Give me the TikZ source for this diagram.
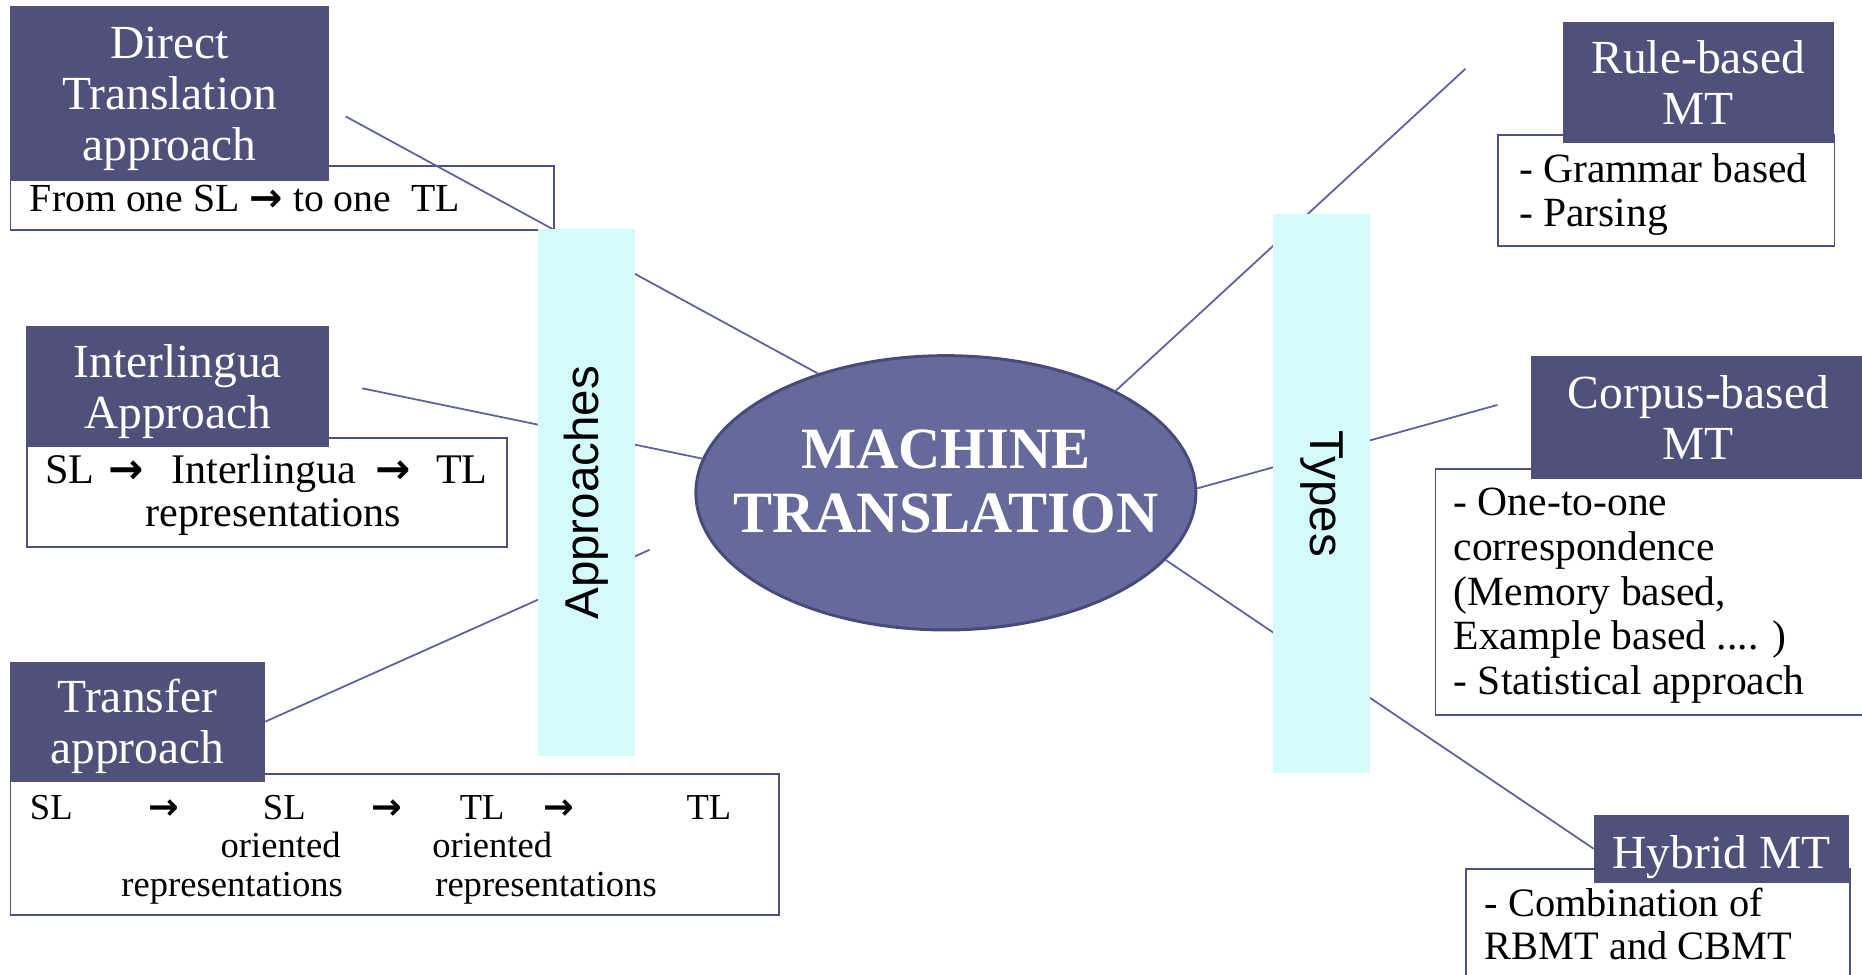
\documentclass[tikz,border=0pt]{standalone}
\usepackage{fontspec}
\setmainfont{Liberation Serif}
\setsansfont{Liberation Sans}
\newfontfamily\arrowfont{DejaVu Sans}[BoldFont={DejaVu Sans Bold}]
\newcommand{\rarr}{{\arrowfont\bfseries →}}
\usetikzlibrary{shapes.geometric}
\definecolor{darkbox}{HTML}{50517A}
\definecolor{ellfill}{HTML}{656A9B}
\definecolor{elldraw}{HTML}{474B7A}
\definecolor{linkc}{HTML}{5F629E}
\definecolor{boxline}{HTML}{4D5080}
\definecolor{cyanbar}{HTML}{D4FBFC}
\begin{document}
\begin{tikzpicture}[x=1pt,y=-1pt,
  darkstyle/.style={fill=darkbox, text=white, inner sep=0pt, align=center, anchor=north west, text depth=0pt, font=\fontsize{40}{43}\selectfont},
  whitestyle/.style={draw=boxline, line width=1.6pt, fill=white, inner sep=0pt, anchor=north west},
  bodytext/.style={inner sep=0pt, anchor=base west, align=left, font=\fontsize{35}{37}\selectfont},
  bodyc/.style={inner sep=0pt, anchor=base, font=\fontsize{35}{37}\selectfont},
  intc/.style={inner sep=0pt, anchor=base, font=\fontsize{35.5}{37}\selectfont},
  trc/.style={inner sep=0pt, anchor=base, font=\fontsize{30.8}{33}\selectfont},
  link/.style={draw=linkc, line width=1.5pt},
  barstyle/.style={fill=cyanbar, inner sep=0pt, font=\sffamily\fontsize{40}{44}\selectfont},
  ellstyle/.style={ellipse, fill=ellfill, draw=elldraw, line width=2.5pt, inner sep=0pt, minimum width=421pt, minimum height=231pt},
  mttext/.style={text=white, align=center, inner sep=0pt, font=\bfseries\fontsize{49.3}{54}\selectfont}
]
\useasboundingbox (0,0) rectangle (1568,821);
\clip (0,0) rectangle (1568,821);

% white boxes
\node[whitestyle, minimum width=458pt, minimum height=54pt] (dirw) at (8,139) {};
\node[whitestyle, minimum width=404pt, minimum height=92pt] (intw) at (22,368) {};
\node[whitestyle, minimum width=647pt, minimum height=119pt] (trw) at (8,651) {};
\node[whitestyle, minimum width=283pt, minimum height=93pt] (rulw) at (1261,113) {};
\node[whitestyle, minimum width=380pt, minimum height=207pt] (corw) at (1208,394) {};
\node[whitestyle, minimum width=323pt, minimum height=120pt] (hybw) at (1234,731) {};

% dark title boxes
\node[darkstyle, minimum width=269pt, minimum height=147pt] (dir) at (8,5) {Direct\\Translation\\approach};
\node[darkstyle, minimum width=255pt, minimum height=102pt] (int) at (22,274) {Interlingua\\Approach};
\node[darkstyle, minimum width=215pt, minimum height=101pt] (tr) at (8,557) {Transfer\\approach};
\node[darkstyle, minimum width=228pt, minimum height=102pt] (rul) at (1316,18) {Rule-based\\MT};
\node[darkstyle, minimum width=282pt, minimum height=103pt] (cor) at (1289,300) {Corpus-based\\MT};
\node[darkstyle, minimum width=215pt, minimum height=57pt] (hyb) at (1342,686) {\raisebox{-17pt}[0pt][0pt]{Hybrid MT}};

% body texts
\node[bodytext, font=\fontsize{33.5}{37}\selectfont] (dirt) at (25,178) {From one SL \rarr{} to one\ \ TL};

\node[intc, anchor=base west] (int1) at (38,407) {SL};
\node[intc] (int2) at (106,407) {\rarr};
\node[intc, anchor=base west] (int3) at (144,407) {Interlingua};
\node[intc] (int4) at (331,407) {\rarr};
\node[intc, anchor=base west] (int5) at (367,407) {TL};
\node[intc] (int6) at (230,443) {representations};

\node[trc, anchor=base west] (tr1) at (25,690) {SL};
\node[trc] (tr2) at (137.6,690) {\rarr};
\node[trc] (tr3) at (239.4,690) {SL};
\node[trc] (tr4) at (325.7,690) {\rarr};
\node[trc] (tr5) at (406,690) {TL};
\node[trc] (tr6) at (470.5,690) {\rarr};
\node[trc] (tr7) at (597,690) {TL};
\node[trc] (tr8) at (236.3,722) {oriented};
\node[trc] (tr9) at (414.5,722) {oriented};
\node[trc] (tr10) at (195.5,755) {representations};
\node[trc] (tr11) at (459.8,755) {representations};

% multi-line nodes: anchor is the baseline of the last line
\node[bodytext] (rult) at (1279,191) {- Grammar based\\- Parsing};
\node[bodytext, font=\fontsize{35}{37.7}\selectfont] (cort) at (1224,585) {- One-to-one\\correspondence\\(Memory based,\\Example based .... )\\- Statistical approach};
\node[bodytext, font=\fontsize{34}{36}\selectfont] (hybt) at (1250,808) {- Combination of\\RBMT and CBMT};

% central ellipse
\node[ellstyle] (mt) at (796.5,415) {};
\node[mttext] (mtt) at (796.5,405.6) {MACHINE\\TRANSLATION};

% connectors
\coordinate (e1) at (291,98);
\coordinate (e2) at (305,327);
\coordinate (e3) at (547,463);
\coordinate (e4) at (1234,58);
\coordinate (e5) at (1261,341);
\draw[link] (mt.137.5) -- (e1);
\draw[link] (mt.172.5) -- (e2);
\draw[link] (tr.east) -- (e3);
\draw[link] (mt.31.5) -- (e4);
\draw[link] (mt.1) -- (e5);
\draw[link] (mt.-17.4) -- (hyb.west);

% category bars
\node[barstyle, rotate=90, minimum width=444pt, minimum height=82pt] (appr) at (494,415) {Approaches};
\node[barstyle, rotate=-90, minimum width=471pt, minimum height=82pt] (typ) at (1113,415.5) {Types};
\end{tikzpicture}
\end{document}
